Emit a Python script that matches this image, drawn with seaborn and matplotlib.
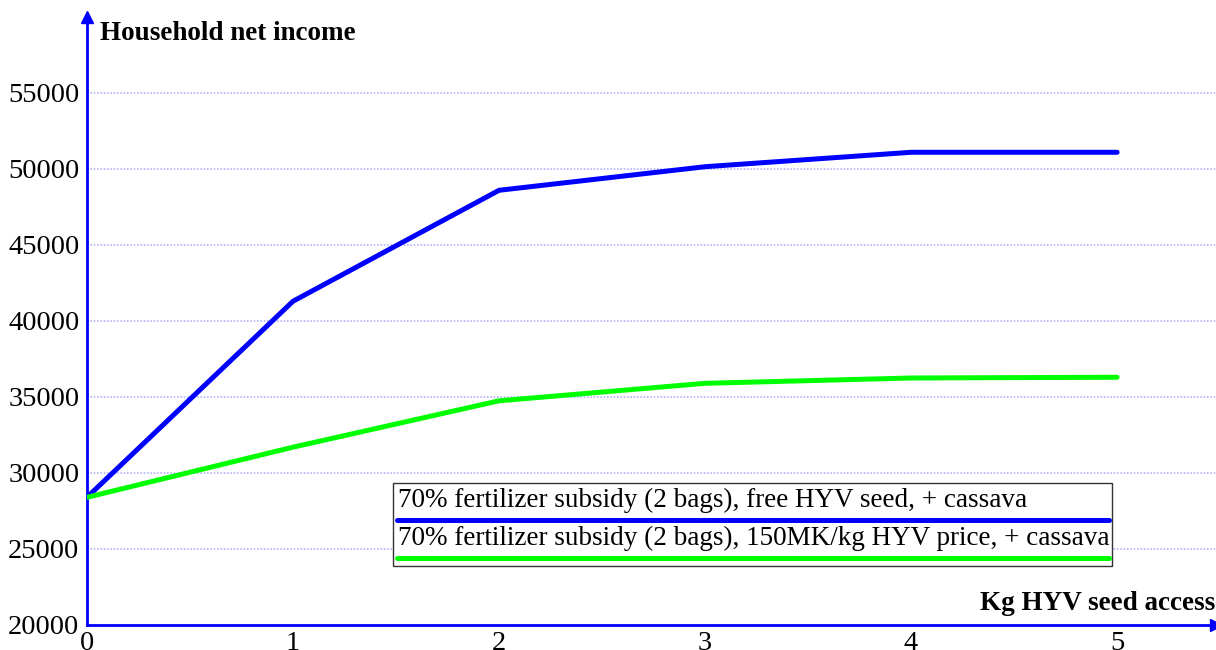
import numpy as np
import pandas as pd
import seaborn as sns
import matplotlib
matplotlib.use("Agg")
import matplotlib.pyplot as plt
from matplotlib.patches import Rectangle
from matplotlib.lines import Line2D

seed_kg = [0, 1, 2, 3, 4, 5]
free_seed = [28400, 41300, 48600, 50150, 51100, 51100]
priced_seed = [28400, 31700, 34750, 35900, 36250, 36300]
series_names = ["70% fertilizer subsidy (2 bags), free HYV seed, + cassava",
                "70% fertilizer subsidy (2 bags), 150MK/kg HYV price, + cassava"]
y_ticks = [20000, 25000, 30000, 35000, 40000, 45000, 50000, 55000]
x_ticks = [0, 1, 2, 3, 4, 5]
colors = ["#0000ff", "#00ff00"]

df = pd.DataFrame({
    "x": seed_kg * 2,
    "y": free_seed + priced_seed,
    "series": [series_names[0]] * len(seed_kg) + [series_names[1]] * len(seed_kg),
})

sns.set_theme(style="white")
plt.rcParams["font.family"] = ["Liberation Serif", "DejaVu Serif"]

fig = plt.figure(figsize=(12.16, 6.5), dpi=100)
ax = fig.add_axes([87 / 1216, 25 / 650, (1216 - 87) / 1216, (625 - 17) / 650])

sns.lineplot(data=df, x="x", y="y", hue="series", palette=colors, linewidth=3.6,
             legend=False, ax=ax, zorder=3)

ax.set_xlim(0, 5.48)
ax.set_ylim(20000, 60000)
ax.set_xticks(x_ticks)
ax.set_yticks(y_ticks)
ax.set_xticklabels([str(v) for v in x_ticks])
ax.set_yticklabels([str(v) for v in y_ticks])
ax.tick_params(axis="both", direction="inout", length=9, width=1, color="#0000ff",
               labelsize=20.5, labelcolor="black")
ax.tick_params(axis="x", pad=0)
ax.tick_params(axis="y", pad=1)

for yv in y_ticks[1:]:
    ax.axhline(yv, color="#b4b4ff", linestyle=(0, (1, 1)), linewidth=1.2, zorder=1)

for s in ["top", "right"]:
    ax.spines[s].set_visible(False)
for s in ["left", "bottom"]:
    ax.spines[s].set_color("#0000ff")
    ax.spines[s].set_linewidth(2)

ax.plot([0], [1], marker="^", color="#0000ff", markersize=9, transform=ax.transAxes, clip_on=False)
ax.plot([1], [0], marker=">", color="#0000ff", markersize=9, transform=ax.transAxes, clip_on=False)

ax.set_xlabel("")
ax.set_ylabel("")
ax.text(100 / 1216, 1 - 34 / 650, "Household net income", transform=fig.transFigure,
        fontsize=19.5, fontweight="bold", ha="left", va="center", color="black")
ax.text(1215 / 1216, 1 - 603 / 650, "Kg HYV seed access", transform=fig.transFigure,
        fontsize=19.5, fontweight="bold", ha="right", va="center", color="black")

# legend box
lx0, lx1 = 393 / 1216, 1112 / 1216
ly0, ly1 = 1 - 566 / 650, 1 - 483 / 650
fig.patches.append(Rectangle((lx0, ly0), lx1 - lx0, ly1 - ly0, transform=fig.transFigure,
                             facecolor="white", edgecolor="#333333", linewidth=1, zorder=5))
for i, (name, c) in enumerate(zip(series_names, colors)):
    ty = 1 - (500 + i * 38) / 650
    fig.text(398 / 1216, ty, name, fontsize=19.5, ha="left", va="center", zorder=6, color="black")
    lyy = 1 - (520 + i * 38) / 650
    fig.lines.append(Line2D([397 / 1216, 1109 / 1216], [lyy, lyy], transform=fig.transFigure,
                            color=c, linewidth=3.6, zorder=6))

fig.savefig("out.png", dpi=100)
